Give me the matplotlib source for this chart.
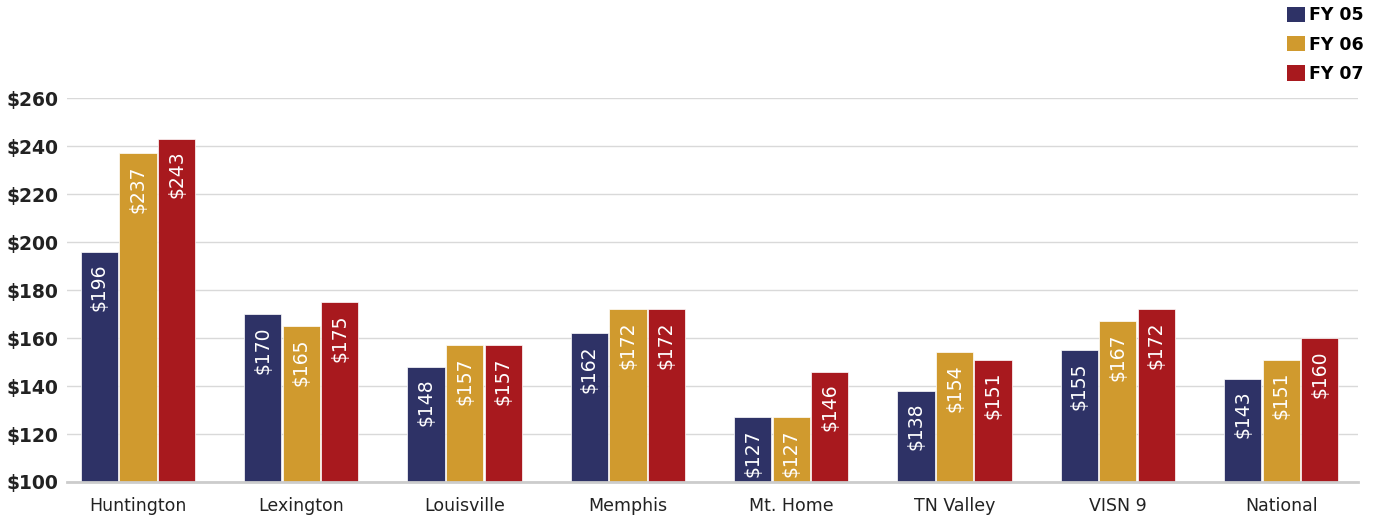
import matplotlib.pyplot as plt
import numpy as np
from matplotlib.patches import Patch

# cost per unique patient by facility, three fiscal years
sites = ['Huntington', 'Lexington', 'Louisville', 'Memphis', 'Mt. Home',
         'TN Valley', 'VISN 9', 'National']
fy05 = [196, 170, 148, 162, 127, 138, 155, 143]
fy06 = [237, 165, 157, 172, 127, 154, 167, 151]
fy07 = [243, 175, 157, 172, 146, 151, 172, 160]
years = ['FY 05', 'FY 06', 'FY 07']
colors = ['#2e3266', '#d09a2e', '#a8191e']

fig = plt.figure(figsize=(13.75, 5.16), dpi=100)
ax = fig.add_axes([0.0487, 0.0659, 0.9389, 0.7441])

x = np.arange(len(sites))
step = 0.236
width = 0.228
for k, (vals, col) in enumerate(zip([fy05, fy06, fy07], colors)):
    pos = x + (k - 1) * step
    ax.bar(pos, [v - 100 for v in vals], width, bottom=100, color=col,
           edgecolor='white', linewidth=0.5, zorder=3)
    for p, v in zip(pos, vals):
        ax.text(p, v - 5, f'${v}', rotation=90, ha='center', va='top',
                color='white', fontsize=13.5, zorder=4)

ax.set_xlim(-0.435, len(sites) - 0.53)
ax.set_ylim(100, 260)
yt = np.arange(100, 261, 20)
ax.set_yticks(yt)
ax.set_yticklabels([f'${t}' for t in yt], fontsize=13.5, fontweight='bold',
                   color='#222222')
ax.set_xticks(x)
ax.set_xticklabels(sites, fontsize=12.5, color='#222222')
ax.tick_params(axis='x', length=0, pad=11)
ax.tick_params(axis='y', length=0, pad=6)
ax.grid(axis='y', color='#d9d9d9', linewidth=1, zorder=0)
for s in ['top', 'right', 'left']:
    ax.spines[s].set_visible(False)
ax.spines['bottom'].set_color('#cccccc')
ax.spines['bottom'].set_linewidth(2)
ax.spines['bottom'].set_zorder(5)

handles = [Patch(facecolor=c, label=y) for c, y in zip(colors, years)]
fig.legend(handles=handles, loc='upper right', bbox_to_anchor=(1.003, 1.018),
           frameon=False, handlelength=1.0, handleheight=1.0,
           handletextpad=0.25, labelspacing=0.65,
           prop={'size': 12.5, 'weight': 'bold'})

fig.savefig('out.png', dpi=100)
